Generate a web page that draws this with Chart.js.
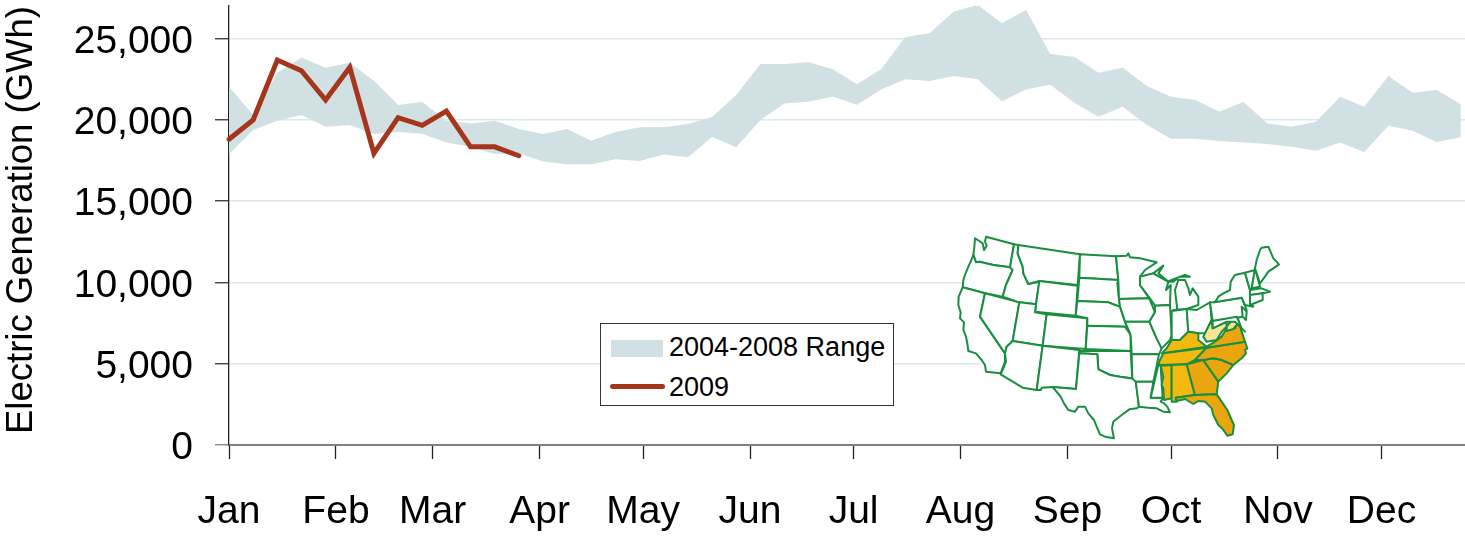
<!DOCTYPE html>
<html>
<head>
<meta charset="utf-8">
<title>Electric Generation</title>
<script src="https://cdn.jsdelivr.net/npm/chart.js@4"></script>
<style>
body { margin: 0; background: #fff; font-family: "Liberation Sans", Arial, sans-serif; }
#wrap { position: relative; width: 1465px; height: 539px; overflow: hidden; }
#legend { position: absolute; left: 600px; top: 323px; width: 292px; height: 81px; background: #fff; border: 1.5px solid #333; font-size: 27px; color: #000; }
#legend .sw { position: absolute; left: 10px; top: 16px; width: 52px; height: 17px; background: #d1e0e3; }
#legend .ln { position: absolute; left: 9px; top: 60px; width: 55px; height: 5px; border-radius: 3px; background: #a5361c; }
#legend .t1, #legend .t2 { position: absolute; left: 68px; line-height: 30px; white-space: nowrap; }
#legend .t1 { top: 8px; }
#legend .t2 { top: 48px; }
#map { position: absolute; left: 940px; top: 225px; }
</style>
</head>
<body>
<div id="wrap">
  <canvas id="myChart" width="1465" height="539"></canvas>
  <svg id="map" width="350" height="225" viewBox="0 0 1050 675"></svg>
  <div id="legend">
    <div class="sw"></div><div class="t1"></div>
    <div class="ln"></div><div class="t2"></div>
  </div>
</div>
<script>
// week of the year, as day number from Jan 1
var weeks = [0,7,14,21,28,35,42,49,56,63,70,77,84,91,98,105,112,119,126,133,140,147,154,161,168,175,182,189,196,203,210,217,224,231,238,245,252,259,266,273,280,287,294,301,308,315,322,329,336,343,350,357];

var rangeHigh = [22030,20290,22900,23840,23200,23510,22400,20910,21090,19940,19780,19940,19430,19120,19430,18710,19250,19550,19550,19740,20170,21520,23430,23430,23540,23110,22180,23110,25090,25320,26650,27060,25940,26760,24050,23860,22900,23200,22080,21420,21220,20500,21090,19780,19570,19880,21420,20800,22690,21670,21830,20950];
var rangeLow = [17890,19370,19940,20290,19570,19680,19120,19250,19140,18610,18340,17890,17940,17440,17260,17260,17570,17460,17870,17690,18940,18320,19990,21010,21110,21440,20930,21870,22490,22390,22690,22490,21140,21870,22160,21050,20190,20800,19680,18830,18830,18690,18610,18510,18340,18100,18610,18020,19630,19330,18630,18920];
var gen2009 = [18800,19990,23680,23020,21220,23230,17940,20130,19660,20540,18340,18340,17790];

var months = ['Jan','Feb','Mar','Apr','May','Jun','Jul','Aug','Sep','Oct','Nov','Dec'];
var monthDays = [0,31,59,90,120,151,181,212,243,273,304,334];
var yTicks = [0,5000,10000,15000,20000,25000];
var seriesNames = ['2004-2008 Range','2009'];

function pts(vals) {
    return vals.map(function(v, i) { return {x: weeks[i], y: v}; });
}

document.querySelector('#legend .t1').textContent = seriesNames[0];
document.querySelector('#legend .t2').textContent = seriesNames[1];

var ctx = document.getElementById('myChart').getContext('2d');

var myChart = new Chart(ctx, {
    type: 'line',
    data: {
        datasets: [
            {
                label: seriesNames[1],
                data: pts(gen2009),
                borderColor: '#a5361c',
                borderWidth: 5,
                borderCapStyle: 'round',
                borderJoinStyle: 'miter',
                pointRadius: 0,
                fill: false,
                tension: 0,
                clip: false,
                order: 0
            },
            {
                label: 'high',
                data: pts(rangeHigh),
                borderWidth: 0,
                pointRadius: 0,
                backgroundColor: '#d1e0e3',
                fill: '+1',
                tension: 0,
                clip: false,
                order: 1
            },
            {
                label: 'low',
                data: pts(rangeLow),
                borderWidth: 0,
                pointRadius: 0,
                fill: false,
                tension: 0,
                clip: false,
                order: 2
            }
        ]
    },
    options: {
        responsive: false,
        animation: false,
        layout: { padding: { top: 6, right: 0, left: 0, bottom: 0 } },
        plugins: { legend: { display: false }, tooltip: { enabled: false } },
        scales: {
            x: {
                type: 'linear',
                min: 0,
                max: 358.2,
                afterFit: function(s) { s.height = 94; s.paddingLeft = 0; s.paddingRight = 0; },
                afterBuildTicks: function(s) {
                    s.ticks = monthDays.map(function(d) { return {value: d}; });
                },
                border: { color: '#808080', width: 2 },
                grid: { drawOnChartArea: false, tickColor: '#222', tickLength: 14, tickWidth: 1.3 },
                ticks: {
                    autoSkip: false,
                    maxRotation: 0,
                    padding: 30,
                    color: '#000',
                    font: { family: '"Liberation Sans"', size: 39 },
                    callback: function(v) { return months[monthDays.indexOf(v)]; }
                }
            },
            y: {
                min: 0,
                max: 27000,
                afterFit: function(s) { s.width = 229; s.paddingTop = 0; s.paddingBottom = 0; },
                afterBuildTicks: function(s) {
                    s.ticks = yTicks.map(function(v) { return {value: v}; });
                },
                border: { color: '#222', width: 1.3 },
                grid: {
                    color: '#dae9eb',
                    lineWidth: 1.5,
                    tickLength: 14,
                    tickWidth: 1.3,
                    tickColor: function(c) { return c.tick.value === 0 ? '#808080' : '#333'; }
                },
                title: {
                    display: true,
                    text: 'Electric Generation (GWh)',
                    align: 'end',
                    color: '#000',
                    padding: 0,
                    font: { family: '"Liberation Sans"', size: 36.5 }
                },
                ticks: {
                    autoSkip: false,
                    padding: 22,
                    labelOffset: 3.5,
                    color: '#000',
                    font: { family: '"Liberation Sans"', size: 39 },
                    callback: function(v) { return v.toLocaleString('en-US'); }
                }
            }
        }
    }
});

// inset map of the states, in zoomed picture units (3 per pixel)
var ORANGE = '#eba60f', YELLOW = '#f3b90f', PALE = '#fbe29b', WHITE = '#fff';
var land = '105,40 138,35 420,88 560,92 650,112 700,150 750,155 775,240 815,232 875,155 945,130 960,75 985,65 1015,120 960,180 990,200 930,240 920,290 922,370 880,420 835,470 880,600 878,630 862,632 815,545 760,535 690,560 597,545 520,590 517,640 480,628 440,550 400,560 340,490 182,448 138,440 88,380 55,225';
var states = [
    [WHITE,'105,40 103,65 100,90 108,112 118,110 160,120 210,127 222,58 138,35 135,50 140,62 132,75 128,55 118,48'],
    [WHITE,'100,90 92,110 85,125 75,150 70,165 68,187 135,205 188,215 198,180 218,135 210,127 160,120 118,110 108,112'],
    [WHITE,'68,187 56,215 55,240 62,262 60,280 72,292 70,315 78,335 82,355 85,378 108,385 125,405 135,420 138,440 182,445 195,410 195,385 120,275 135,205'],
    [WHITE,'135,205 120,275 195,385 200,365 218,348 238,232'],
    [WHITE,'222,58 235,60 233,85 248,125 250,145 265,177 298,170 288,238 238,232 188,215 198,180 218,135 210,127'],
    [WHITE,'235,60 420,88 413,180 298,168 265,177 250,145 248,125 233,85'],
    [WHITE,'298,168 413,182 407,272 285,260'],
    [WHITE,'238,232 288,238 285,262 320,268 308,362 218,348'],
    [WHITE,'218,348 308,362 290,495 248,488 182,448 190,430 198,410 195,385 200,365'],
    [WHITE,'320,268 442,280 437,372 308,362'],
    [WHITE,'308,362 418,375 408,492 338,486 305,488 303,495 290,495'],
    [WHITE,'420,88 528,94 535,165 418,158'],
    [WHITE,'418,158 535,165 532,175 537,222 540,245 525,240 505,232 412,228'],
    [WHITE,'412,228 505,232 525,240 540,245 555,290 572,330 555,305 442,302 442,280 407,272'],
    [WHITE,'442,302 555,305 572,330 572,378 437,372'],
    [WHITE,'418,378 572,378 577,460 540,455 510,450 475,433 472,388 418,385'],
    [WHITE,'408,492 418,385 472,388 475,433 510,450 540,455 585,462 588,470 597,545 590,550 568,553 545,570 520,590 516,610 522,640 495,635 480,628 470,605 462,585 445,565 435,545 415,545 405,560 385,555 372,535 362,515 338,486'],
    [WHITE,'528,94 560,92 565,85 570,97 600,100 650,112 615,135 600,155 600,180 628,220 537,222 535,165'],
    [WHITE,'537,222 628,220 645,262 628,290 555,290 540,245'],
    [WHITE,'555,290 628,290 650,340 665,370 657,388 575,388 572,330'],
    [WHITE,'575,388 657,388 640,470 587,470 577,460'],
    [WHITE,'587,470 640,470 632,518 670,518 662,530 672,535 682,545 690,562 670,560 650,550 625,548 597,545'],
    [WHITE,'600,155 640,145 685,170 678,195 692,180 690,240 645,242 628,218 600,180'],
    [WHITE,'645,242 690,240 695,330 690,345 665,370 650,340 628,290 645,262'],
    [WHITE,'640,145 670,122 655,145 685,170 695,165 735,150 750,155 720,155 700,170 685,170'],
    [WHITE,'700,255 712,255 705,195 715,165 735,165 745,190 750,210 758,190 775,215 775,240 740,252'],
    [WHITE,'695,258 740,252 745,320 720,345 695,345 695,330'],
    [WHITE,'740,252 770,255 810,232 815,285 795,325 775,325 745,320'],
    [WHITE,'655,420 632,518 668,518 662,422'],
    [YELLOW,'665,385 680,370 695,345 720,345 745,320 775,325 775,345 800,365 670,385'],
    [YELLOW,'670,385 800,368 765,405 740,418 660,420 655,415'],
    [YELLOW,'662,422 695,420 695,520 672,525 670,490 665,480 670,455'],
    [YELLOW,'695,420 740,418 765,510 707,518 710,530 695,530'],
    [ORANGE,'740,418 790,405 835,470 830,508 765,510'],
    [ORANGE,'707,518 765,510 830,508 845,530 862,555 875,585 882,600 878,628 862,632 848,612 835,600 820,570 815,550 795,530 775,528 760,537 735,522 710,528'],
    [ORANGE,'790,405 820,400 845,405 880,420 860,445 845,460 835,470'],
    [ORANGE,'765,405 800,368 915,350 922,370 915,375 918,385 905,400 880,420 845,405 820,400 790,405'],
    [ORANGE,'800,368 915,350 905,320 895,285 885,310 860,310 845,335 825,350 800,365'],
    [PALE,'795,325 815,285 818,310 860,290 860,305 845,320 830,345 800,350 790,335'],
    [PALE,'860,305 872,290 895,280 890,300 880,312 860,318'],
    [WHITE,'810,232 822,232 905,218 920,255 910,275 818,288'],
    [WHITE,'825,232 835,215 850,205 870,195 872,170 885,150 915,143 930,195 930,232 940,245 915,240 905,218 822,232'],
    [WHITE,'818,288 890,275 905,310 915,320 895,300 885,290 860,290 818,310'],
    [WHITE,'905,245 920,260 918,285 908,275'],
    [WHITE,'915,143 945,135 935,190 930,195'],
    [WHITE,'945,130 960,185 935,190'],
    [WHITE,'945,130 950,105 960,75 965,68 985,65 1000,100 1017,118 1000,130 985,140 975,155 960,175'],
    [WHITE,'930,195 965,190 990,200 968,205 930,210'],
    [WHITE,'930,210 968,205 968,225 930,240']
];

var svg = document.getElementById('map');
function addPoly(points, fill, stroke) {
    var p = document.createElementNS('http://www.w3.org/2000/svg', 'polygon');
    p.setAttribute('points', points);
    p.setAttribute('fill', fill);
    p.setAttribute('stroke', stroke);
    p.setAttribute('stroke-width', '6');
    p.setAttribute('stroke-linejoin', 'round');
    svg.appendChild(p);
}
addPoly(land, WHITE, 'none');
states.forEach(function(s) { addPoly(s[1], s[0], '#188f40'); });
</script>
</body>
</html>
